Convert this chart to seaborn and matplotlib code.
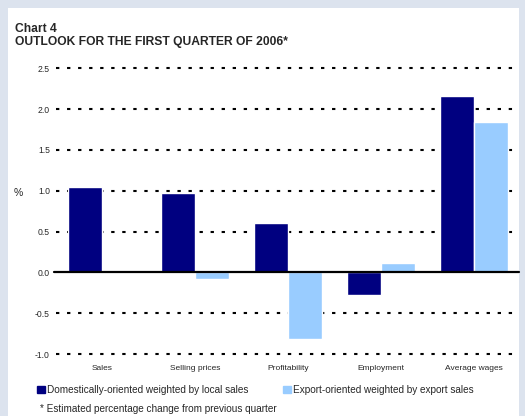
import matplotlib
matplotlib.use("Agg")
import matplotlib.pyplot as plt
import matplotlib.patches as mpatches
import pandas as pd
import seaborn as sns

# values (% change)
categories = ["Sales", "Selling prices", "Profitability", "Employment", "Average wages"]
domestic = [1.04, 0.97, 0.60, -0.28, 2.16]
export = [0.0, -0.08, -0.82, 0.12, 1.84]
series_names = ["Domestically-oriented weighted by local sales",
                "Export-oriented weighted by export sales"]
y_ticks = [-1.0, -0.5, 0.0, 0.5, 1.0, 1.5, 2.0, 2.5]
colors = ["#000080", "#99ccff"]

df = pd.DataFrame({
    "Category": categories * 2,
    "Value": domestic + export,
    "Series": [series_names[0]] * len(categories) + [series_names[1]] * len(categories),
})

sns.set_style("white")
plt.rcParams["font.family"] = ["Liberation Sans", "DejaVu Sans"]

W, H = 525, 416
fig = plt.figure(figsize=(W / 100, H / 100), dpi=100, facecolor="#dce3ee")
# white panel inside the light border
fig.patches.append(mpatches.Rectangle((8 / W, 0), 511 / W, 408 / H, transform=fig.transFigure,
                                      facecolor="white", edgecolor="none", zorder=-5))

ax = fig.add_axes([55.5 / W, 57.9 / H, 460.5 / W, 294 / H])
ax.set_facecolor("none")

sns.barplot(data=df, x="Category", y="Value", hue="Series", palette=colors,
            width=0.73, gap=0, saturation=1, errorbar=None, legend=False, ax=ax, zorder=2)

# dotted grid lines behind the bars, solid zero line
for t in y_ticks:
    if t != 0:
        ax.axhline(t, color="black", lw=1.5, linestyle=(0, (1.6, 3.7)), zorder=0.5)
ax.axhline(0, xmin=-0.003, xmax=1.006, color="black", lw=1.6, zorder=3, clip_on=False)

ax.set_ylim(-1.05, 2.55)
ax.set_xlim(-0.5, 4.45)
ax.set_yticks(y_ticks)
ax.set_yticklabels([f"{t:.1f}" for t in y_ticks])
ax.tick_params(axis="y", length=0, labelsize=6.2, pad=4)
ax.tick_params(axis="x", length=0, labelsize=6, pad=5)
ax.set_xlabel("")
ax.set_ylabel("")
for s in ax.spines.values():
    s.set_visible(False)

fig.text(18 / W, 1 - 193 / H, "%", ha="center", va="center", fontsize=7.5)

fig.text(15 / W, 1 - 32.5 / H, "Chart 4", va="baseline", fontsize=8.7, fontweight="bold")
fig.text(15 / W, 1 - 45.5 / H, "OUTLOOK FOR THE FIRST QUARTER OF 2006*", va="baseline",
         fontsize=8.7, fontweight="bold")

handles = [mpatches.Patch(color=c) for c in colors]
fig.legend(handles, series_names, loc="upper left", bbox_to_anchor=(37 / W, 1 - 385 / H),
           ncol=2, frameon=False, fontsize=7.2, handlelength=0.75, handleheight=0.75,
           handletextpad=0.25, columnspacing=3.5, borderaxespad=0, borderpad=0)

fig.text(40 / W, 1 - 409 / H, "* Estimated percentage change from previous quarter",
         va="center", fontsize=7.2)

fig.savefig("out.png", dpi=100, facecolor=fig.get_facecolor())
